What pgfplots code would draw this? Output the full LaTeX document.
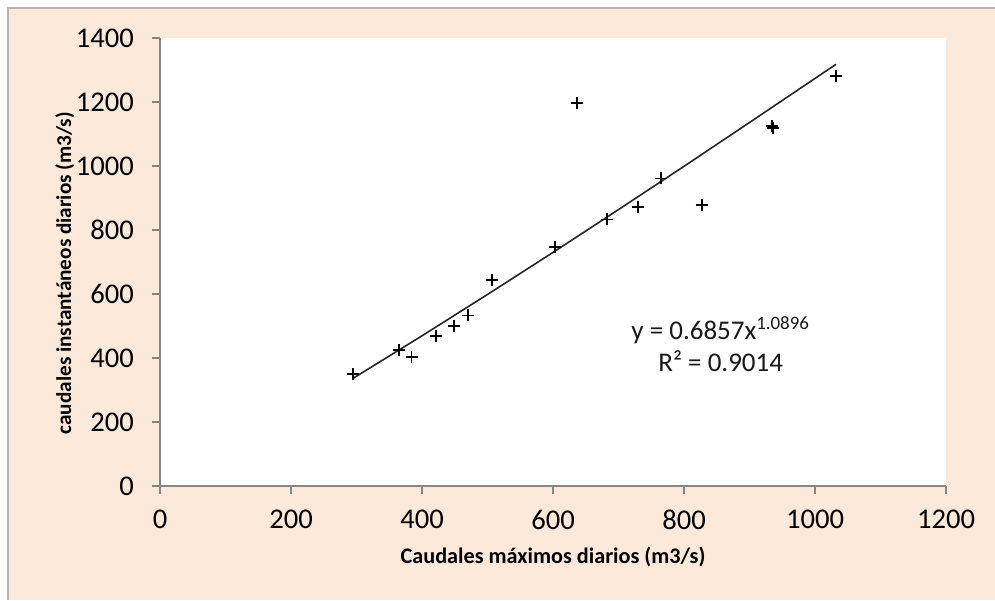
\documentclass[border=0pt]{standalone}
\usepackage{fontspec}
\setmainfont{Carlito}
\usepackage{pgfplots}
\pgfplotsset{compat=1.18}
\definecolor{peach}{HTML}{FDE9D9}
\definecolor{axgray}{HTML}{868686}
\definecolor{framegray}{HTML}{B4B4B4}
\begin{document}
\begin{tikzpicture}[x=1pt,y=1pt]
\path[use as bounding box] (0,0) rectangle (497.5,300);
\fill[white] (0,0) rectangle (497.5,300);
\fill[peach] (4,0) rectangle (497.5,296);
\draw[framegray, line width=1.4pt] (4,0) -- (4,296) -- (497.5,296);
\begin{axis}[
  at={(80pt,57pt)}, anchor=south west,
  scale only axis, width=393pt, height=224pt,
  xmin=0, xmax=1200, ymin=0, ymax=1400,
  xtick={0,200,...,1200}, ytick={0,200,...,1400},
  axis x line*=bottom, axis y line*=left,
  axis line style={-, axgray, line width=0.8pt},
  axis background/.style={fill=white},
  tick align=outside, major tick length=4pt,
  tick style={axgray, line width=0.8pt},
  xtick pos=bottom, ytick pos=left,
  /pgf/number format/assume math mode=true,
  /pgf/number format/1000 sep={},
  ticklabel style={font=\fontsize{14.3}{16}\selectfont, text=black},
  yticklabel style={xshift=-5.5pt},
  xticklabel style={yshift=-4.5pt},
  xlabel={\textbf{Caudales máximos diarios (m3/s)}},
  ylabel={\textbf{caudales instantáneos diarios (m3/s)}},
  xlabel style={font=\fontsize{11.1}{12}\selectfont, at={(axis description cs:0.5,-0.158)}, anchor=center},
  ylabel style={font=\fontsize{10.6}{12}\selectfont, at={(axis description cs:-0.121,0.475)}, anchor=center},
  clip=false,
]
\addplot[only marks, mark=+, mark size=3pt, mark options={line width=0.9pt, black}] coordinates {
(295,350) (365,425) (384,402) (421,469) (449,500) (470,533) (507,644)
(603,748) (683,833) (730,873) (765,961) (827,878) (934,1124) (936,1119)
(637,1196) (1032,1281)
};
\addplot[black!85, line width=0.8pt] coordinates {
(295,336.7) (400,469.4) (500,598.6) (600,730.0) (700,863.8) (800,999.0) (900,1135.9) (1032,1317.8)
};
\node[align=center, font=\fontsize{13.5}{16}\selectfont, text=black!90] at (axis cs:856,444)
  {y = 0.6857x\textsuperscript{1.0896}\\R² = 0.9014};
\end{axis}
\end{tikzpicture}
\end{document}
